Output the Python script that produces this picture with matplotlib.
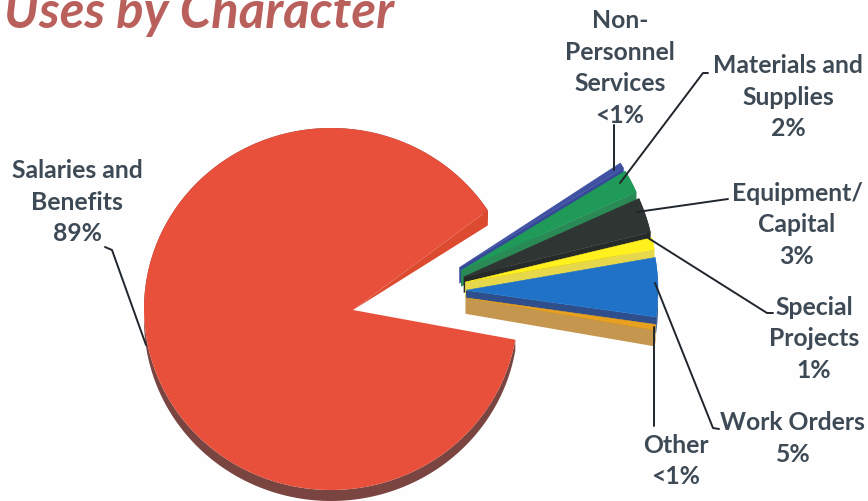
import numpy as np
import matplotlib
matplotlib.use("Agg")
import matplotlib.pyplot as plt

# percent of uses, clockwise from the gap
categories = ["Non-Personnel Services", "Materials and Supplies", "Equipment/Capital",
              "Special Projects", "Work Orders", "Other", "Salaries and Benefits"]
values = [0.5, 2, 3, 1, 5, 0.5, 89]
top_colors = ["#3f51a3", "#1f9a58", "#2f3533", "#fff01e", "#1f72c8", "#e8a020", "#e9503c"]
side_colors = ["#36489a", "#2a8a55", "#262b2a", "#e6d84a", "#2f4f8c", "#c4964e", "#7a4540"]

labels = [
    ("Non-\nPersonnel\nServices\n<1%", 620, 68),
    ("Materials and\nSupplies\n2%", 788, 97),
    ("Equipment/\nCapital\n3%", 797, 225),
    ("Special\nProjects\n1%", 814, 339),
    ("Work Orders", 792, 422),
    ("5%", 793, 455),
    ("Other\n<1%", 676, 461),
    ("Salaries and\nBenefits\n89%", 77, 202),
]
leaders = [
    ([614, 614], [125, 170]),
    ([708, 703, 620], [73, 73, 183]),
    ([728, 637], [199, 212]),
    ([773, 767, 645], [313, 313, 236]),
    ([719, 713, 655], [429, 428, 283]),
    ([654, 654], [327, 426]),
    ([105, 112, 146], [247, 250, 345]),
]

START = 33.0
TILT = 1.0
R_SMALL = 192.0
DEPTH_SMALL = 16.0
CX, CY, EXPLODE = 422.0, 291.0, 44.0
MAIN_CX, MAIN_CY, MAIN_RX, MAIN_RY = 331.0, 309.0, 187.0, 181.0
MAIN_APEX = (353.0, 310.0)
DEPTH_MAIN = 11.0
CUT_DEPTH = 15.0

FONT = ["Lato", "DejaVu Sans"]
TEXT_COLOR = "#3d4a55"

fig = plt.figure(figsize=(8.68, 5.01), dpi=100, facecolor="#fefefe")
ax = fig.add_axes([0, 0, 1, 1])
ax.set_xlim(0, 868)
ax.set_ylim(501, 0)
ax.axis("off")

sweeps = np.array(values) / sum(values) * 360.0
starts = START - np.concatenate([[0], np.cumsum(sweeps)[:-1]])

# main slice, side first
t = np.radians(np.linspace(starts[6], starts[6] - sweeps[6], 240))
mx = MAIN_CX + MAIN_RX * np.cos(t)
my = MAIN_CY - MAIN_RY * np.sin(t)
ax.fill(np.r_[mx, mx[::-1]], np.r_[my, my[::-1] + DEPTH_MAIN],
        color=side_colors[6], lw=0, zorder=1)
ax.fill([MAIN_APEX[0], mx[-1], mx[-1]], [MAIN_APEX[1], my[-1], my[-1] + CUT_DEPTH],
        color="#dc4a30", lw=0, zorder=1)
ax.fill(np.r_[MAIN_APEX[0], mx], np.r_[MAIN_APEX[1], my],
        color=top_colors[6], lw=0, zorder=2)

# exploded slices, upper ones first so the lower overlap them
for i in range(6):
    t = np.radians(np.linspace(starts[i], starts[i] - sweeps[i], 16))
    mid = np.radians(starts[i] - sweeps[i] / 2)
    ax0 = CX + EXPLODE * np.cos(mid)
    ay0 = CY - EXPLODE * np.sin(mid)
    sx = ax0 + R_SMALL * np.cos(t)
    sy = ay0 - R_SMALL * TILT * np.sin(t)
    z = 3 + i
    # outer band and the lower cut face
    ax.fill(np.r_[sx, sx[::-1]], np.r_[sy, sy[::-1] + DEPTH_SMALL],
            color=side_colors[i], lw=0, zorder=z)
    ax.fill([ax0, sx[-1], sx[-1], ax0], [ay0, sy[-1], sy[-1] + DEPTH_SMALL, ay0 + DEPTH_SMALL],
            color=side_colors[i], lw=0, zorder=z)
    ax.fill(np.r_[ax0, sx], np.r_[ay0, sy], color=top_colors[i], lw=0.4,
            edgecolor=top_colors[i], zorder=z)

for xs, ys in leaders:
    ax.plot(xs, ys, color="#20262c", lw=1.4, zorder=12, solid_capstyle="round")

for txt, x, y in labels:
    ax.text(x, y, txt, ha="center", va="center", family=FONT, weight="bold",
            fontsize=17.8, color=TEXT_COLOR, linespacing=1.45, zorder=13)

ax.text(4, 28, "Uses by Character", family=FONT, weight="bold", style="italic",
        fontsize=36.5, color="#b9605c", ha="left", va="baseline", zorder=13)

fig.savefig("out.png", dpi=100, facecolor=fig.get_facecolor())
